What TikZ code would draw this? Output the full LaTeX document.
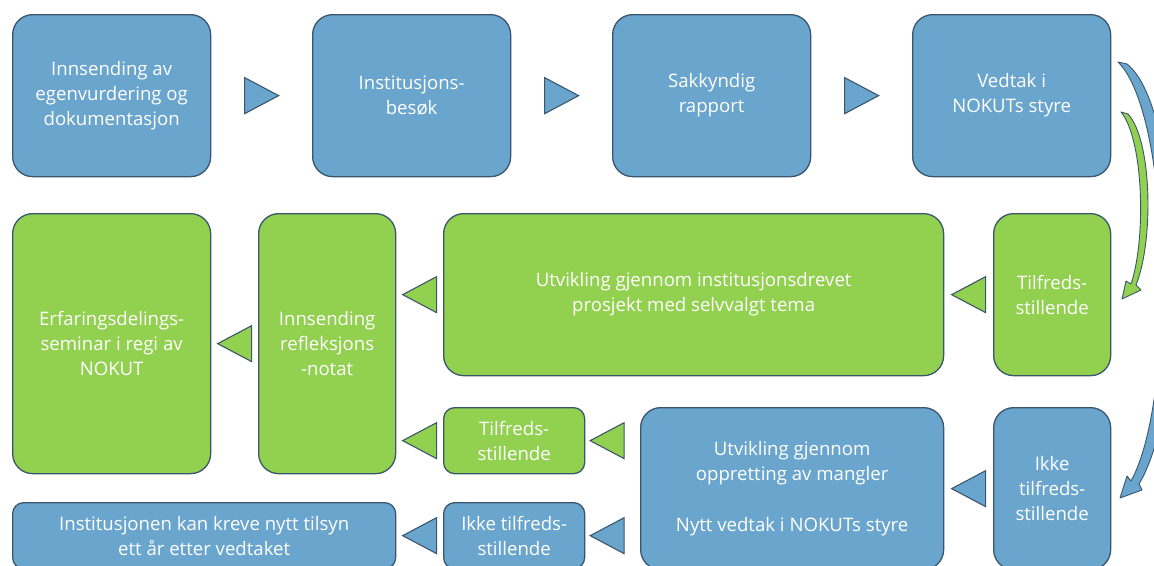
\documentclass[tikz,border=0pt]{standalone}
\usepackage{fontspec}
\setmainfont{Open Sans}
\usetikzlibrary{calc}
\definecolor{bfill}{RGB}{106,165,205}
\definecolor{gfill}{RGB}{146,208,80}
\definecolor{edge}{RGB}{58,86,110}
\tikzset{
 box/.style={draw=edge, line width=1.3pt, rounded corners=20pt, text=white, align=center,
   font=\fontsize{18.6}{25}\selectfont, inner sep=0pt, anchor=north west},
 sbox/.style={box, rounded corners=11pt},
 bbox/.style={box, fill=bfill},
 gbox/.style={box, fill=gfill},
 tri/.style={draw=edge, line width=1.1pt, line join=miter},
 btri/.style={tri, fill=bfill},
 gtri/.style={tri, fill=gfill},
 carrow/.style={draw=edge, line width=0.9pt, line join=round},
}
\begin{document}
\begin{tikzpicture}[x=1pt,y=-1pt]
\useasboundingbox (0,0) rectangle (1154,565);
\clip (0,0) rectangle (1154,565);
% row 1
\node[bbox, minimum width=198pt, minimum height=162pt] (b1) at (12,14) {Innsending av\\egenvurdering og\\dokumentasjon};
\node[bbox, minimum width=198pt, minimum height=162pt] (b2) at (312,14) {Institusjons-\\besøk};
\node[bbox, minimum width=198pt, minimum height=162pt] (b3) at (612,14) {Sakkyndig\\rapport};
\node[bbox, minimum width=198pt, minimum height=162pt] (b4) at (912,14) {Vedtak i\\NOKUTs styre};
% row 2
\node[gbox, minimum width=198pt, minimum height=260pt] (g1) at (12,213) {Erfaringsdelings-\\seminar i regi av\\NOKUT};
\node[gbox, minimum width=137pt, minimum height=260pt] (g2) at (258,213) {Innsending\\refleksjons\\-notat};
\node[gbox, minimum width=500pt, minimum height=162pt] (g3) at (443,213) {Utvikling gjennom institusjonsdrevet\\prosjekt med selvvalgt tema};
\node[gbox, minimum width=117pt, minimum height=162pt] (g4) at (993,213) {Tilfreds-\\stillende};
% row 3
\node[gbox, sbox, minimum width=141pt, minimum height=66pt] (sg) at (443,407) {Tilfreds-\\stillende};
\node[bbox, minimum width=303pt, minimum height=162pt] (bu) at (640,407) {Utvikling gjennom\\oppretting av mangler\\[26pt]Nytt vedtak i NOKUTs styre};
\node[bbox, minimum width=117pt, minimum height=162pt] (bi) at (993,407) {Ikke\\tilfreds-\\stillende};
% row 4
\node[bbox, sbox, minimum width=383pt, minimum height=66pt] (inst) at (12,502) {Institusjonen kan kreve nytt tilsyn\\ett år etter vedtaket};
\node[bbox, sbox, minimum width=141pt, minimum height=66pt] (ik) at (443,502) {Ikke tilfreds-\\stillende};
% right-pointing triangles
\foreach \a/\b in {b1/b2,b2/b3,b3/b4}{
  \draw[btri] ($(\a.east)!0.5!(\b.west)$) ++(-17,-18) -- ++(34,18) -- ++(-34,18) -- cycle;
}
% left-pointing triangles
\draw[gtri] ($(g1.east)!0.5!(g2.west)$) ++(17,-18) -- ++(-34,18) -- ++(34,18) -- cycle;
\draw[gtri] ($(g2.east |- g3.west)!0.5!(g3.west)$) ++(17,-18) -- ++(-34,18) -- ++(34,18) -- cycle;
\draw[gtri] ($(g3.east)!0.5!(g4.west)$) ++(17,-18) -- ++(-34,18) -- ++(34,18) -- cycle;
\draw[gtri] ($(g2.east |- sg.west)!0.5!(sg.west)$) ++(17,-18) -- ++(-34,18) -- ++(34,18) -- cycle;
\draw[gtri] ($(sg.east)!0.4!(sg.east -| bu.west)$) ++(17,-18) -- ++(-34,18) -- ++(34,18) -- cycle;
\draw[btri] ($(bu.east |- bi.west)!0.5!(bi.west)$) ++(17,-18) -- ++(-34,18) -- ++(34,18) -- cycle;
\draw[btri] ($(inst.east)!0.5!(ik.west)$) ++(17,-18) -- ++(-34,18) -- ++(34,18) -- cycle;
\draw[btri] ($(ik.east)!0.4!(ik.east -| bu.west)$) ++(17,-18) -- ++(-34,18) -- ++(34,18) -- cycle;
% curved arrows
\draw[carrow, fill=bfill] (1118,62) -- (1127,64)
  .. controls (1185,110) and (1190,400) .. (1139,484)
  -- (1142,490) -- (1120,498) -- (1127,476) -- (1131,481)
  .. controls (1176,400) and (1172,115) .. cycle;
\draw[carrow, fill=gfill] (1121,112) -- (1128,114)
  .. controls (1152,140) and (1154,240) .. (1136,285)
  -- (1141,290) -- (1122,299) -- (1126,281) -- (1131,284)
  .. controls (1146,240) and (1144,140) .. cycle;
\end{tikzpicture}
\end{document}
